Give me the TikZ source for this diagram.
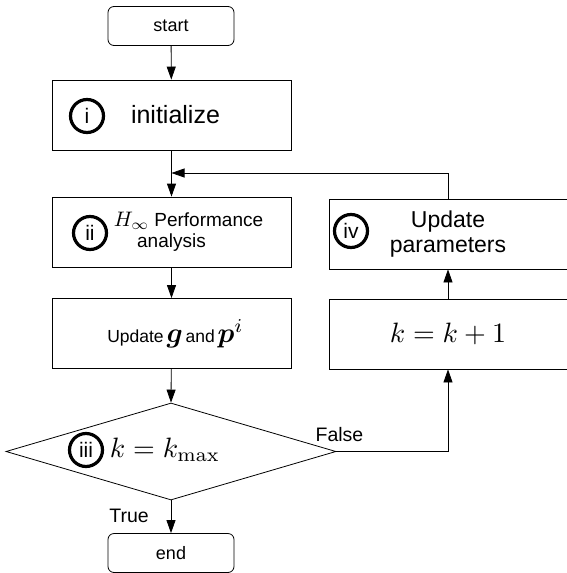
\documentclass[tikz,border=0pt]{standalone}
\usepackage{amsmath,bm,graphicx}
\usepackage[no-math]{fontspec}
\setmainfont{Liberation Sans}
\usetikzlibrary{arrows.meta,shapes.geometric}
\newcommand\fsz[1]{\fontsize{#1pt}{1.2\dimexpr#1pt\relax}\selectfont}
\newcommand\bigmath[2]{\scalebox{#1}{\fontsize{10pt}{12pt}\selectfont$#2$}}
\tikzset{
  box/.style={draw, line width=0.8pt, minimum width=239pt, minimum height=70pt, inner sep=0pt, align=center},
  term/.style={draw, line width=0.8pt, rounded corners=6pt, minimum width=126pt, minimum height=39pt, inner sep=0pt},
  circ/.style={draw, circle, line width=3.2pt, minimum size=33pt, inner sep=0pt, font=\fsz{21}},
  arr/.style={line width=0.8pt, -{Triangle[length=13pt,width=9pt]}},
  lbl/.style={inner sep=0pt, font=\fsz{19.5}}
}
\begin{document}
\begin{tikzpicture}[x=1pt,y=-1pt]
\useasboundingbox (0,0) rectangle (566,573);
% nodes
\node[term, font=\fsz{18}] (start) at (171,26) {start};
\node[box, font=\fsz{25}] (init) at (171.5,115) {\hspace*{8pt}initialize};
\node[circ] (c1) at (87,116) {i};
\node[box, font=\fsz{19}] (perf) at (171.5,232) {\hspace*{34pt}\bigmath{2.1}{H_\infty} Performance\\[-2pt]analysis};
\node[circ] (c2) at (90,233) {ii};
\node[box] (upd) at (171.5,333.5) {\hspace*{8pt}{\fsz{17.5}Update} \bigmath{2.8}{\bm{g}} {\fsz{17.5}and} \bigmath{2.8}{\bm{p}^{i}}};
\node[draw, diamond, line width=0.8pt, minimum width=330pt, minimum height=97pt, inner sep=0pt] (dec) at (171,451.5) {};
\node[circ] (c3) at (86,450) {iii};
\node[inner sep=0pt] (kmax) at (165,450) {\bigmath{2.8}{k=k_{\max}}};
\node[term, font=\fsz{18}] (end) at (171,553) {end};
\node[box, minimum width=238pt] (kinc) at (448,334) {\bigmath{2.8}{k=k+1}};
\node[box, minimum width=238pt, font=\fsz{23}] (upar) at (448,234) {Update\\[-3pt]parameters};
\node[circ] (c4) at (351,231) {iv};
\coordinate (m) at (171.5,173);
% connectors
\draw[arr] (start) -- (init);
\draw[arr] (init) -- (perf);
\draw[arr] (upar.north) |- (m);
\draw[arr] (perf) -- (upd);
\draw[arr] (upd) -- (dec.north);
\draw[arr] (dec.south) -- (end);
\node[lbl] (ltrue) at (129,516) {True};
\draw[arr] (dec.east) -| (kinc.south);
\node[lbl] (lfalse) at (339.5,435) {False};
\draw[arr] (kinc) -- (upar);
\end{tikzpicture}
\end{document}
